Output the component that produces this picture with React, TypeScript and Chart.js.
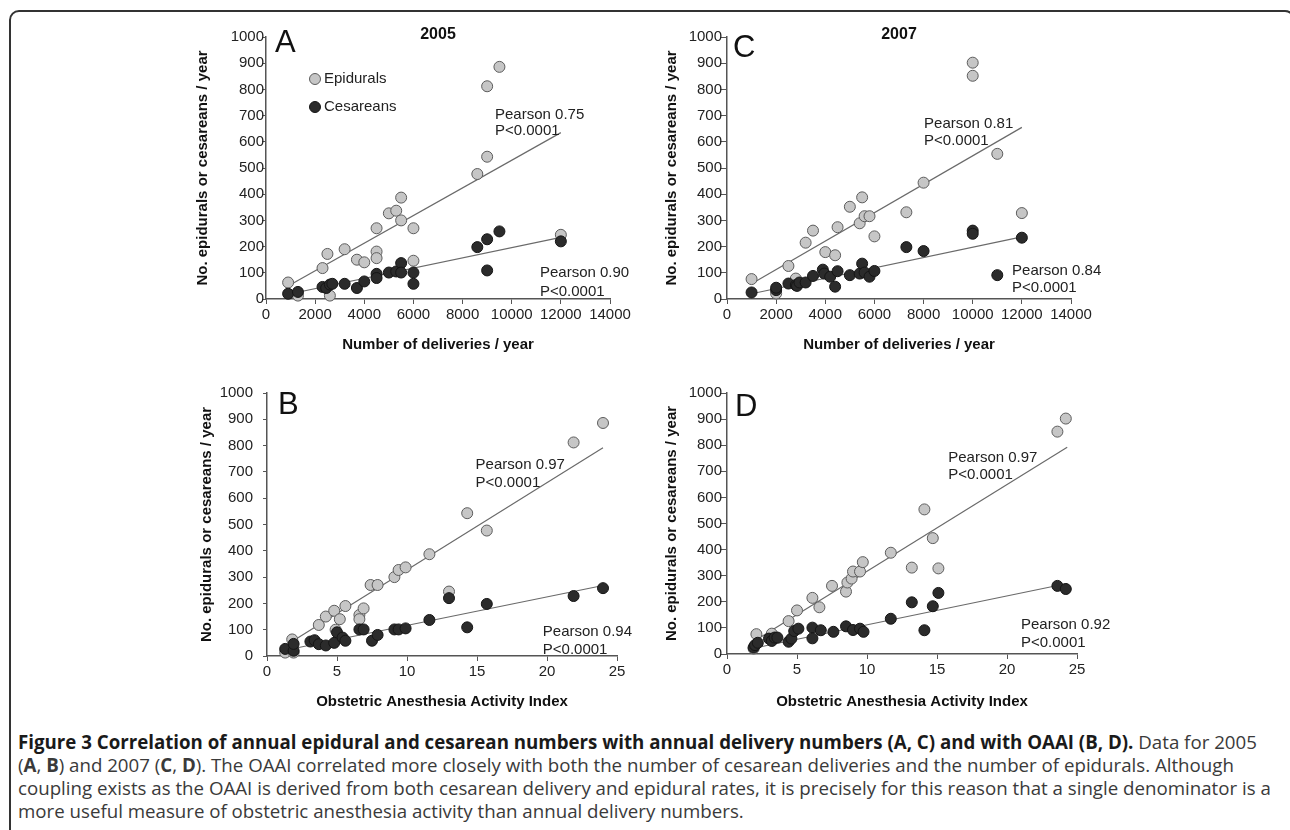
import React, { useEffect, useRef } from "react";
import { Chart, registerables } from "chart.js";

Chart.register(...registerables);

type Pt = [number, number];
type Note = { text: string; x: number; y: number };

const FONT = '"Liberation Sans", Arial, Helvetica, sans-serif';

// ---------- Panel A: 2005, deliveries / year ----------
const deliv2005Epidurals: Pt[] = [
  [900, 63], [1300, 13], [2300, 118], [2500, 172], [2600, 13], [3200, 190], [3700, 150],
  [4000, 140], [4500, 270], [4500, 181], [4500, 156], [5000, 327], [5300, 337], [5500, 387],
  [5500, 300], [6000, 270], [6000, 146], [8600, 477], [9000, 543], [9000, 812], [9500, 886],
  [12000, 245],
];
const deliv2005Cesareans: Pt[] = [
  [900, 20], [1300, 27], [2300, 46], [2450, 42], [2600, 55], [2700, 58], [3200, 58],
  [3700, 42], [4000, 67], [4500, 96], [4500, 80], [5000, 101], [5300, 105], [5500, 137],
  [5500, 101], [6000, 101], [6000, 58], [8600, 198], [9000, 228], [9000, 109], [9500, 258],
  [12000, 220],
];
const deliv2005EpiFit: Pt[] = [[900, 50], [12000, 635]];
const deliv2005CesFit: Pt[] = [[1000, 20], [12000, 235]];
const deliv2005Notes: Note[] = [
  { text: "Pearson 0.75", x: 9320, y: 702 },
  { text: "P<0.0001", x: 9320, y: 641 },
  { text: "Pearson 0.90", x: 11150, y: 99 },
  { text: "P<0.0001", x: 11150, y: 27 },
];

// ---------- Panel C: 2007, deliveries / year ----------
const deliv2007Epidurals: Pt[] = [
  [1000, 76], [2000, 21], [2500, 126], [2800, 78], [3200, 215], [3500, 261], [4000, 179],
  [4400, 167], [4500, 274], [5000, 352], [5400, 289], [5500, 388], [5600, 316], [5800, 316],
  [6000, 239], [7300, 331], [8000, 444], [10000, 902], [10000, 852], [11000, 554], [12000, 328],
];
const deliv2007Cesareans: Pt[] = [
  [1000, 25], [2000, 34], [2000, 43], [2500, 59], [2800, 53], [2850, 50], [2950, 63],
  [3200, 63], [3500, 88], [3900, 112], [3960, 97], [4200, 85], [4400, 47], [4500, 106],
  [5000, 91], [5400, 97], [5500, 135], [5600, 101], [5800, 85], [6000, 107], [7300, 198],
  [8000, 183], [10000, 261], [10000, 249], [11000, 91], [12000, 234],
];
const deliv2007EpiFit: Pt[] = [[1000, 58], [12000, 655]];
const deliv2007CesFit: Pt[] = [[1000, 20], [12000, 237]];
const deliv2007Notes: Note[] = [
  { text: "Pearson 0.81", x: 8020, y: 668 },
  { text: "P<0.0001", x: 8020, y: 603 },
  { text: "Pearson 0.84", x: 11600, y: 107 },
  { text: "P<0.0001", x: 11600, y: 42 },
];

// ---------- Panel B: 2005, OAAI ----------
const oaai2005Epidurals: Pt[] = [
  [1.3, 13], [1.8, 63], [1.9, 13], [3.7, 118], [4.2, 150], [4.8, 172], [4.9, 100], [5.2, 140],
  [5.6, 190], [6.6, 156], [6.6, 140], [6.9, 181], [7.4, 270], [7.9, 270], [9.1, 300],
  [9.4, 327], [9.9, 337], [11.6, 387], [13.0, 245], [14.3, 543], [15.7, 477], [21.9, 812],
  [24.0, 886],
];
const oaai2005Cesareans: Pt[] = [
  [1.3, 27], [1.9, 20], [1.9, 46], [3.1, 55], [3.4, 60], [3.7, 45], [4.2, 40], [4.8, 50],
  [5.0, 90], [5.4, 70], [5.6, 58], [6.6, 101], [6.9, 101], [7.5, 58], [7.9, 80], [9.1, 101],
  [9.4, 101], [9.9, 105], [11.6, 137], [13.0, 220], [14.3, 109], [15.7, 198], [21.9, 228],
  [24.0, 258],
];
const oaai2005EpiFit: Pt[] = [[1.3, 39], [24.0, 792]];
const oaai2005CesFit: Pt[] = [[1.3, 22], [24.0, 268]];
const oaai2005Notes: Note[] = [
  { text: "Pearson 0.97", x: 14.9, y: 726 },
  { text: "P<0.0001", x: 14.9, y: 658 },
  { text: "Pearson 0.94", x: 19.7, y: 91 },
  { text: "P<0.0001", x: 19.7, y: 23 },
];

// ---------- Panel D: 2007, OAAI ----------
const oaai2007Epidurals: Pt[] = [
  [1.9, 21], [2.1, 76], [3.2, 78], [4.4, 126], [5.0, 167], [6.1, 215], [6.6, 179], [7.5, 261],
  [8.5, 239], [8.6, 274], [8.9, 289], [9.0, 316], [9.5, 316], [9.7, 352], [11.7, 388],
  [13.2, 331], [14.1, 554], [14.7, 444], [15.1, 328], [23.6, 852], [24.2, 902],
];
const oaai2007Cesareans: Pt[] = [
  [1.9, 25], [2.0, 34], [2.2, 43], [3.0, 59], [3.2, 50], [3.4, 63], [3.6, 63], [4.4, 47],
  [4.6, 59], [4.8, 88], [5.1, 97], [6.1, 101], [6.1, 60], [6.7, 91], [7.6, 85], [8.5, 106],
  [9.0, 92], [9.5, 97], [9.75, 85], [11.7, 135], [13.2, 198], [14.1, 91], [14.7, 183],
  [15.1, 234], [23.6, 261], [24.2, 249],
];
const oaai2007EpiFit: Pt[] = [[1.9, 48], [24.3, 792]];
const oaai2007CesFit: Pt[] = [[1.9, 22], [24.3, 270]];
const oaai2007Notes: Note[] = [
  { text: "Pearson 0.97", x: 15.8, y: 751 },
  { text: "P<0.0001", x: 15.8, y: 686 },
  { text: "Pearson 0.92", x: 21.0, y: 111 },
  { text: "P<0.0001", x: 21.0, y: 42 },
];

const yTitle = "No. epidurals or cesareans / year";
const xTitleDeliv = "Number of deliveries / year";
const xTitleOaai = "Obstetric Anesthesia Activity Index";
const legendLabels = ["Epidurals", "Cesareans"];

const EPI_FILL = "#c6c6c6";
const EPI_EDGE = "#5c5c5c";
const CES_FILL = "#2b2b2b";
const CES_EDGE = "#151515";
const AXIS = "#555555";
const FIT = "#6a6a6a";

const panelTextPlugin = {
  id: "panelText",
  afterDatasetsDraw(chart: any, _args: any, opts: any) {
    const { ctx, chartArea, scales } = chart;
    ctx.save();
    ctx.fillStyle = "#111";
    ctx.textAlign = "left";
    ctx.textBaseline = "top";
    ctx.font = `31px ${FONT}`;
    ctx.fillText(opts.letter, chartArea.left + opts.letterDx, chartArea.top + opts.letterDy);
    if (opts.title) {
      ctx.font = `bold 16px ${FONT}`;
      ctx.textAlign = "center";
      ctx.textBaseline = "middle";
      ctx.fillText(opts.title, (chartArea.left + chartArea.right) / 2, chartArea.top - 2);
    }
    ctx.font = `15px ${FONT}`;
    ctx.fillStyle = "#222";
    ctx.textAlign = "left";
    ctx.textBaseline = "middle";
    for (const n of opts.notes as Note[]) {
      ctx.fillText(n.text, scales.x.getPixelForValue(n.x), scales.y.getPixelForValue(n.y));
    }
    if (opts.legend) {
      const items = [
        { label: legendLabels[0], fill: EPI_FILL, edge: EPI_EDGE },
        { label: legendLabels[1], fill: CES_FILL, edge: CES_EDGE },
      ];
      items.forEach((it, i) => {
        const cx = chartArea.left + 49;
        const cy = chartArea.top + 42 + i * 28;
        ctx.beginPath();
        ctx.arc(cx, cy, 5.5, 0, Math.PI * 2);
        ctx.fillStyle = it.fill;
        ctx.fill();
        ctx.lineWidth = 1;
        ctx.strokeStyle = it.edge;
        ctx.stroke();
        ctx.fillStyle = "#222";
        ctx.font = `15px ${FONT}`;
        ctx.fillText(it.label, cx + 9, cy);
      });
    }
    ctx.restore();
  },
};

interface PanelProps {
  left: number; top: number; width: number; height: number;
  yW: number; xH: number; pt: number; pr: number;
  xMax: number; xStep: number; xTitle: string;
  epi: Pt[]; ces: Pt[]; epiFit: Pt[]; cesFit: Pt[];
  notes: Note[]; letter: string; letterDx: number; letterDy: number;
  title?: string; legend?: boolean;
  yTickPad: number; yTickLen: number; yTitlePad: number; xTitlePad: number;
}

const toXY = (p: Pt[]) => p.map(([x, y]) => ({ x, y }));

function Panel(p: PanelProps) {
  const ref = useRef<HTMLCanvasElement | null>(null);
  useEffect(() => {
    if (!ref.current) return;
    const chart = new Chart(ref.current, {
      type: "scatter",
      data: {
        datasets: [
          {
            label: "Cesareans", data: toXY(p.ces), pointRadius: 5.5, pointHoverRadius: 5.5,
            backgroundColor: CES_FILL, borderColor: CES_EDGE, pointBorderWidth: 1, clip: false,
          } as any,
          {
            label: "Epidurals", data: toXY(p.epi), pointRadius: 5.5, pointHoverRadius: 5.5,
            backgroundColor: EPI_FILL, borderColor: EPI_EDGE, pointBorderWidth: 1, clip: false,
          } as any,
          {
            label: "Epidural fit", data: toXY(p.epiFit), showLine: true, pointRadius: 0,
            borderColor: FIT, borderWidth: 1.2, clip: false,
          } as any,
          {
            label: "Cesarean fit", data: toXY(p.cesFit), showLine: true, pointRadius: 0,
            borderColor: FIT, borderWidth: 1.2, clip: false,
          } as any,
        ],
      },
      options: {
        animation: false,
        responsive: true,
        maintainAspectRatio: false,
        layout: { padding: { left: 0, top: p.pt, right: p.pr, bottom: 0 } },
        plugins: {
          legend: { display: false },
          tooltip: { enabled: false },
          panelText: {
            letter: p.letter, letterDx: p.letterDx, letterDy: p.letterDy,
            title: p.title, notes: p.notes, legend: p.legend,
          },
        } as any,
        scales: {
          x: {
            type: "linear", min: 0, max: p.xMax,
            ticks: {
              stepSize: p.xStep, autoSkip: false, maxRotation: 0, padding: 2,
              color: "#222", font: { family: FONT, size: 15 },
              callback: (v: any) => String(v),
            },
            grid: { drawOnChartArea: false, drawTicks: true, tickLength: 5, color: AXIS, lineWidth: 1 },
            border: { display: true, color: AXIS, width: 1.5 },
            title: {
              display: true, text: p.xTitle, color: "#111",
              font: { family: FONT, size: 15, weight: "bold" },
              padding: { top: 0, bottom: p.xTitlePad },
            },
            afterFit: (s: any) => { s.height = p.xH; },
          },
          y: {
            type: "linear", min: 0, max: 1000,
            ticks: {
              stepSize: 100, autoSkip: false, padding: p.yTickPad,
              color: "#222", font: { family: FONT, size: 15 },
              callback: (v: any) => String(v),
            },
            grid: { drawOnChartArea: false, drawTicks: true, tickLength: p.yTickLen, color: AXIS, lineWidth: 1 },
            border: { display: true, color: AXIS, width: 1.5 },
            title: {
              display: true, text: yTitle, color: "#111",
              font: { family: FONT, size: 15, weight: "bold" },
              padding: { top: p.yTitlePad, bottom: 0 },
            },
            afterFit: (s: any) => { s.width = p.yW; },
          },
        },
      } as any,
      plugins: [panelTextPlugin as any],
    });
    return () => chart.destroy();
  }, []);
  return (
    <div style={{ position: "absolute", left: p.left, top: p.top, width: p.width, height: p.height }}>
      <canvas ref={ref} />
    </div>
  );
}

export default function App() {
  return (
    <div style={{ position: "fixed", left: 0, top: 0, width: 1290, height: 830, overflow: "hidden", background: "#fff" }}>
      <div
        style={{
          position: "absolute", left: 9, top: 10, width: 1286, height: 900,
          border: "2px solid #333", borderRadius: 10, boxSizing: "border-box",
        }}
      />
      <Panel
        left={180} top={12} width={465} height={348} yW={86} xH={61} pt={25} pr={35}
        xMax={14000} xStep={2000} xTitle={xTitleDeliv}
        epi={deliv2005Epidurals} ces={deliv2005Cesareans} epiFit={deliv2005EpiFit} cesFit={deliv2005CesFit}
        notes={deliv2005Notes} letter="A" letterDx={9} letterDy={-9} title="2005" legend
        yTickPad={-2} yTickLen={4} yTitlePad={14} xTitlePad={6}
      />
      <Panel
        left={645} top={12} width={470} height={348} yW={82} xH={61} pt={25} pr={44}
        xMax={14000} xStep={2000} xTitle={xTitleDeliv}
        epi={deliv2007Epidurals} ces={deliv2007Cesareans} epiFit={deliv2007EpiFit} cesFit={deliv2007CesFit}
        notes={deliv2007Notes} letter="C" letterDx={6} letterDy={-4} title="2007"
        yTickPad={-2} yTickLen={7} yTitlePad={18} xTitlePad={6}
      />
      <Panel
        left={180} top={365} width={465} height={355} yW={87} xH={64} pt={28} pr={28}
        xMax={25} xStep={5} xTitle={xTitleOaai}
        epi={oaai2005Epidurals} ces={oaai2005Cesareans} epiFit={oaai2005EpiFit} cesFit={oaai2005CesFit}
        notes={oaai2005Notes} letter="B" letterDx={11} letterDy={-3}
        yTickPad={10} yTickLen={4} yTitlePad={18} xTitlePad={9}
      />
      <Panel
        left={645} top={365} width={470} height={355} yW={82} xH={66} pt={28} pr={38}
        xMax={25} xStep={5} xTitle={xTitleOaai}
        epi={oaai2007Epidurals} ces={oaai2007Cesareans} epiFit={oaai2007EpiFit} cesFit={oaai2007CesFit}
        notes={oaai2007Notes} letter="D" letterDx={8} letterDy={-1}
        yTickPad={-2} yTickLen={7} yTitlePad={18} xTitlePad={9}
      />
      <div
        style={{
          position: "absolute", left: 18, top: 730, fontFamily: '"Open Sans", sans-serif',
          fontSize: 18.7, lineHeight: "23px", color: "#3a3a3a", whiteSpace: "nowrap",
        }}
      >
        <div>
          <b style={{ color: "#1a1a1a" }}>
            Figure 3 Correlation of annual epidural and cesarean numbers with annual delivery numbers (A, C) and with OAAI (B, D).
          </b>{" "}
          Data for 2005
        </div>
        <div>
          (<b>A</b>, <b>B</b>) and 2007 (<b>C</b>, <b>D</b>). The OAAI correlated more closely with both the number of cesarean deliveries and the number of epidurals. Although
        </div>
        <div>
          coupling exists as the OAAI is derived from both cesarean delivery and epidural rates, it is precisely for this reason that a single denominator is a
        </div>
        <div>more useful measure of obstetric anesthesia activity than annual delivery numbers.</div>
      </div>
    </div>
  );
}
